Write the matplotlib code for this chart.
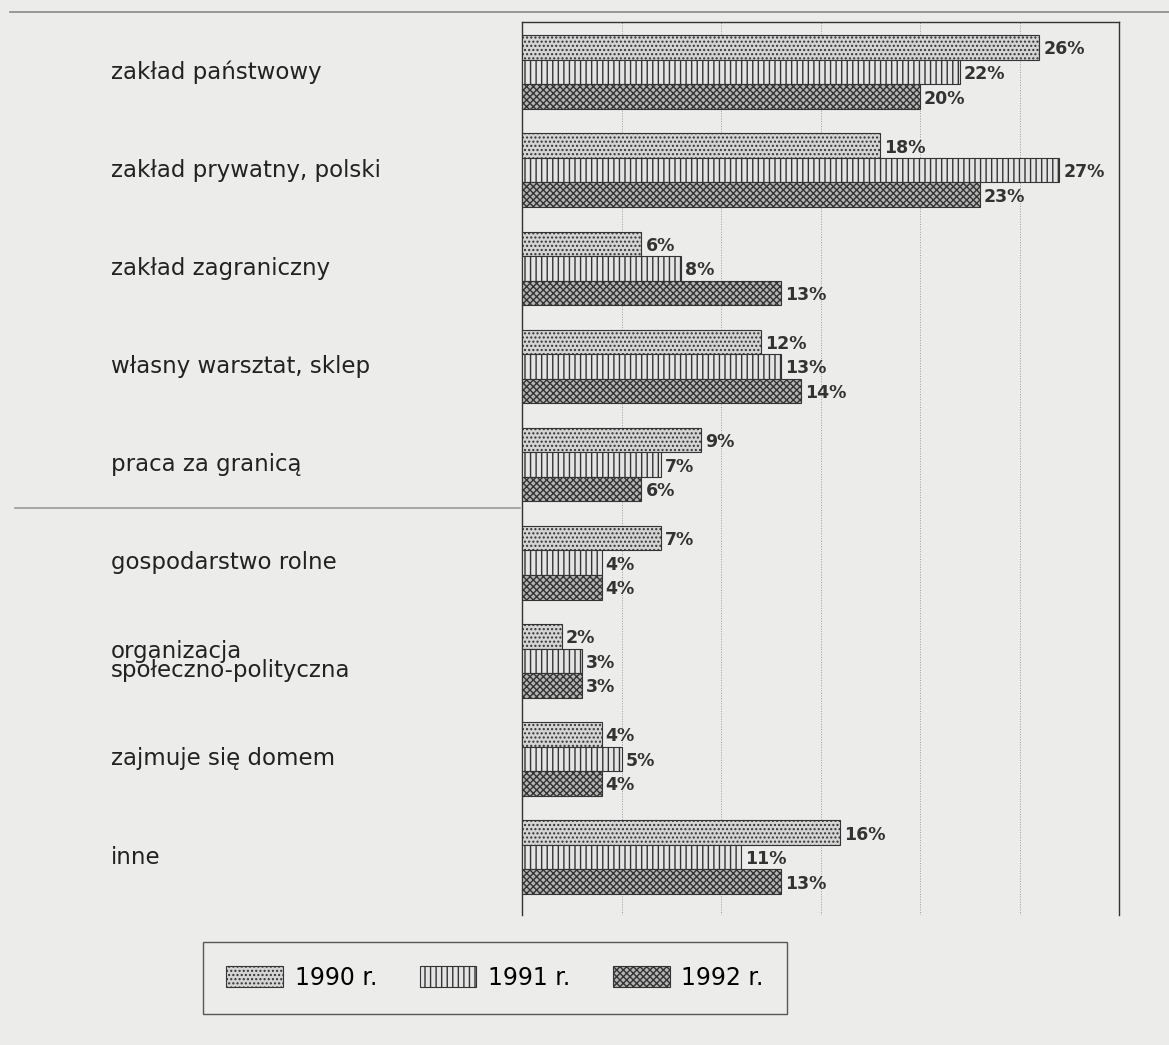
import numpy as np
import matplotlib.pyplot as plt
from matplotlib.patches import Patch
from matplotlib.lines import Line2D

categories = ["zakład państwowy", "zakład prywatny, polski", "zakład zagraniczny",
              "własny warsztat, sklep", "praca za granicą", "gospodarstwo rolne",
              "organizacja\nspołeczno-polityczna", "zajmuje się domem", "inne"]
v1990 = [26, 18, 6, 12, 9, 7, 2, 4, 16]
v1991 = [22, 27, 8, 13, 7, 4, 3, 5, 11]
v1992 = [20, 23, 13, 14, 6, 4, 3, 4, 13]
years = ["1990 r.", "1991 r.", "1992 r."]

plt.rcParams['hatch.linewidth'] = 1.0
plt.rcParams['font.family'] = ['DejaVu Sans']

bg = "#ecedea"
fig = plt.figure(figsize=(11.69, 10.45), dpi=100, facecolor=bg)
ax = fig.add_axes([522/1169, 1-915/1045, (1119-522)/1169, (915-22)/1045])
ax.set_facecolor(bg)

y = np.arange(len(categories))
h = 0.25
styles = [dict(hatch="....", color="#d4d4d4"),
          dict(hatch="|||", color="#e4e4e4"),
          dict(hatch="xxxxx", color="#b4b4b4")]
series = [v1990, v1991, v1992]
for k, vals in enumerate(series):
    ax.barh(y + (k-1)*h, vals, height=h, facecolor=styles[k]["color"],
            edgecolor="#333333", hatch=styles[k]["hatch"], linewidth=0.8, zorder=3)
    for yi, v in zip(y, vals):
        ax.text(v + 0.2, yi + (k-1)*h + 0.02, f"{v}%", va="center", ha="left",
                fontsize=12.5, fontweight="bold", color="#333333", zorder=4)

ax.set_xlim(0, 30)
ax.set_ylim(8.59, -0.51)
ax.set_xticks([5, 10, 15, 20, 25])
ax.grid(axis="x", color="#9a9a9a", linewidth=0.7, linestyle=":")
ax.tick_params(left=False, bottom=False, labelleft=False, labelbottom=False)
ax.set_yticks([])
for s in ["top", "left", "right"]:
    ax.spines[s].set_color("#333333")
    ax.spines[s].set_linewidth(1.0)
ax.spines["bottom"].set_visible(False)

for yi, c in zip(y, categories):
    ax.text(-411 / (597/30), yi, c, ha="left", va="center", fontsize=16.5,
            color="#222222", linespacing=0.8)

# scan lines of the page
fig.add_artist(Line2D([10/1169, 1], [1-12/1045, 1-12/1045], color="#8a8a8a", lw=1.2))
fig.add_artist(Line2D([15/1169, 520/1169], [1-508/1045, 1-508/1045], color="#9a9a9a", lw=1.2))

handles = [Patch(facecolor=styles[k]["color"], edgecolor="#333333",
                 hatch=styles[k]["hatch"], linewidth=0.8) for k in range(3)]
fig.legend(handles, years, loc="center", bbox_to_anchor=(495/1169, 1-978/1045),
           ncol=3, fontsize=17, frameon=True, fancybox=False, edgecolor="#333333",
           facecolor=bg, handlelength=2.4, handleheight=1.0, columnspacing=1.8,
           borderpad=1.0, handletextpad=0.5)

fig.savefig("out.png", dpi=100, facecolor=bg)
